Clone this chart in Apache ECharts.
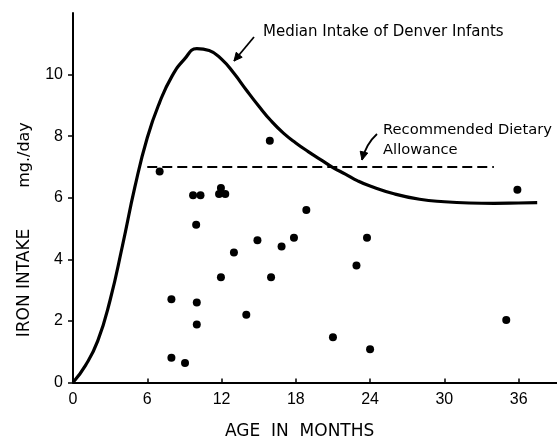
<!DOCTYPE html>
<html>
<head>
<meta charset="utf-8">
<script src="https://cdn.jsdelivr.net/npm/echarts@6/dist/echarts.min.js"></script>
<style>
  html, body { margin: 0; padding: 0; background: #fff; }
  #main { width: 557px; height: 440px; }
</style>
</head>
<body>
<div id="main"></div>
<script>
// x ticks (months) and y ticks (mg/day)
var xTicks = [0, 6, 12, 18, 24, 30, 36];
var yTicks = [0, 2, 4, 6, 8, 10];

// median intake curve
var curveMonths = [0, 1, 2, 3, 4, 5, 6, 7, 8, 9, 10, 11, 12, 13, 14, 15, 16, 17, 18, 19, 20, 21, 22, 23, 24, 26, 28, 30, 32, 34, 36, 37.5];
var curveIntake = [0, 0.55, 1.35, 2.68, 4.45, 6.35, 7.95, 9.1, 9.95, 10.5, 10.84, 10.78, 10.5, 10.04, 9.5, 8.98, 8.5, 8.1, 7.78, 7.5, 7.24, 6.98, 6.77, 6.55, 6.38, 6.12, 5.95, 5.87, 5.83, 5.82, 5.83, 5.84];

// recommended dietary allowance
var rdaMonths = [6, 34];
var rdaValue = 7;

// individual infants
var pointMonths = [7, 9.7, 10.3, 11.8, 11.95, 12.3, 15.9, 9.95, 14.9, 13, 16.85, 11.95, 16, 7.95, 10, 14, 10, 7.95, 9.05, 18.85, 17.85, 23.75, 22.9, 21, 24, 35, 35.9];
var pointIntake = [6.85, 6.08, 6.08, 6.12, 6.32, 6.12, 7.85, 5.12, 4.62, 4.22, 4.42, 3.42, 3.42, 2.7, 2.6, 2.2, 1.88, 0.8, 0.63, 5.6, 4.7, 4.7, 3.8, 1.47, 1.08, 2.03, 6.26];

var font = 'DejaVu Sans';
var tickFont = 'Liberation Sans';

function zip(a, b) {
    return a.map(function(v, i) { return [v, b[i]]; });
}

// arrow with a V head at (x2,y2)
function arrow(x1, y1, cx, cy, x2, y2) {
    var dx = x2 - cx, dy = y2 - cy;
    var len = Math.sqrt(dx * dx + dy * dy);
    var ux = dx / len, uy = dy / len;
    var h = 9, s = Math.sin(Math.PI / 7), c = Math.cos(Math.PI / 7);
    var p1 = [x2 - h * (ux * c - uy * s), y2 - h * (uy * c + ux * s)];
    var p2 = [x2 - h * (ux * c + uy * s), y2 - h * (uy * c - ux * s)];
    return [{
        type: 'bezierCurve',
        shape: { x1: x1, y1: y1, cpx1: cx, cpy1: cy, x2: x2, y2: y2 },
        style: { stroke: '#000', lineWidth: 1.8, fill: null }
    }, {
        type: 'polygon',
        shape: { points: [[x2, y2], p1, p2] },
        style: { fill: '#000', stroke: '#000', lineWidth: 1 }
    }];
}

function label(txt, x, y, size, rot, align) {
    return {
        type: 'text', x: x, y: y, rotation: rot || 0,
        style: { text: txt, fill: '#000', font: size + 'px "' + font + '"', align: align || 'left', verticalAlign: 'middle' }
    };
}

var myChart = echarts.init(document.getElementById('main'));

var option = {
    animation: false,
    backgroundColor: '#fff',
    grid: { left: 73, right: 0, top: 13, bottom: 57.5 },
    xAxis: {
        type: 'value',
        min: 0,
        max: 39.1,
        interval: 6,
        splitLine: { show: false },
        axisLine: { lineStyle: { color: '#000', width: 2 } },
        axisTick: { inside: true, length: 4, customValues: xTicks, lineStyle: { color: '#000', width: 1.5 } },
        axisLabel: { customValues: xTicks, color: '#000', fontFamily: tickFont, fontSize: 16, margin: 9 }
    },
    yAxis: {
        type: 'value',
        min: 0,
        max: 12,
        interval: 2,
        splitLine: { show: false },
        axisLine: { show: true, lineStyle: { color: '#000', width: 2 } },
        axisTick: { show: true, length: 5, customValues: yTicks, lineStyle: { color: '#000', width: 1.5 } },
        axisLabel: { customValues: yTicks, color: '#000', fontFamily: tickFont, fontSize: 16, margin: 10 }
    },
    series: [{
        type: 'line',
        data: zip(curveMonths, curveIntake),
        smooth: 0.5,
        showSymbol: false,
        lineStyle: { color: '#000', width: 3.2 }
    }, {
        type: 'line',
        data: rdaMonths.map(function(m) { return [m, rdaValue]; }),
        showSymbol: false,
        lineStyle: { color: '#000', width: 2, type: [10, 5] }
    }, {
        type: 'scatter',
        data: zip(pointMonths, pointIntake),
        symbolSize: 8,
        itemStyle: { color: '#000', opacity: 1 }
    }],
    graphic: [].concat(
        arrow(254, 37, 244, 49, 234, 61),
        arrow(377, 134, 366, 144, 362, 160),
        [
            label('Median Intake of Denver Infants', 263, 32, 15),
            label('Recommended Dietary', 383, 130, 14.7),
            label('Allowance', 383, 150, 14.7),
            label('AGE  IN  MONTHS', 225, 432, 17),
            label('IRON INTAKE', 25, 283, 17, Math.PI / 2, 'center'),
            label('mg./day', 25, 155, 16, Math.PI / 2, 'center')
        ]
    )
};

myChart.setOption(option);
</script>
</body>
</html>
